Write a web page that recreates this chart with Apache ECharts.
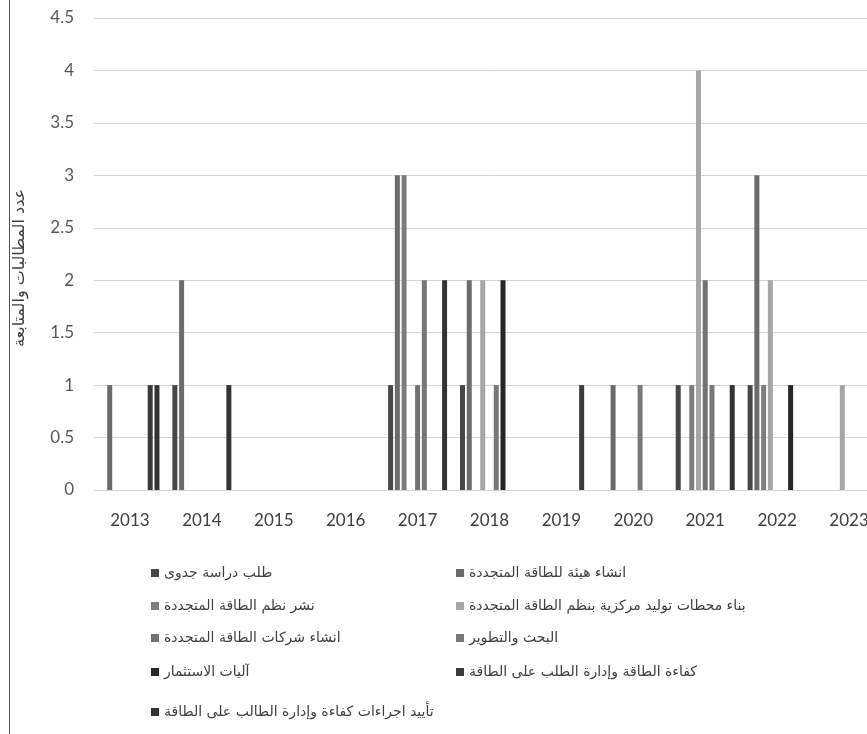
<!DOCTYPE html>
<html>
<head>
<meta charset="utf-8">
<script src="https://cdn.jsdelivr.net/npm/echarts@6/dist/echarts.min.js"></script>
<style>
  html, body { margin: 0; padding: 0; overflow: hidden; background: #ffffff; }
  #chart { width: 900px; height: 734px; }
</style>
</head>
<body>
<div id="chart"></div>
<script>
// Years on the category axis
const years = ['2013', '2014', '2015', '2016', '2017', '2018', '2019', '2020', '2021', '2022', '2023'];

// Series names (legend order)
const seriesNames = [
  'طلب دراسة جدوى',
  'انشاء هيئة للطاقة المتجددة',
  'نشر نظم الطاقة المتجددة',
  'بناء محطات توليد مركزية بنظم الطاقة المتجددة',
  'انشاء شركات الطاقة المتجددة',
  'البحث والتطوير',
  'آليات الاستثمار',
  'كفاءة الطاقة وإدارة الطلب على الطاقة',
  'تأييد اجراءات كفاءة وإدارة الطالب على الطاقة'
];

// Counts per year, one array per series
const feasibilityStudy   = [0, 1, 0, 0, 1, 1, 0, 0, 1, 1, 0];
const energyAuthority    = [1, 2, 0, 0, 3, 2, 0, 1, 0, 3, 0];
const systemsDeployment  = [0, 0, 0, 0, 3, 0, 0, 0, 1, 1, 0];
const centralStations    = [0, 0, 0, 0, 0, 2, 0, 0, 4, 2, 1];
const energyCompanies    = [0, 0, 0, 0, 1, 0, 0, 0, 2, 0, 0];
const researchDev        = [0, 0, 0, 0, 2, 1, 0, 1, 1, 0, 0];
const investmentTools    = [0, 0, 0, 0, 0, 2, 0, 0, 0, 1, 0];
const efficiencyDemand   = [1, 0, 0, 0, 0, 0, 1, 0, 0, 0, 0];
const efficiencySupport  = [1, 1, 0, 0, 2, 0, 0, 0, 1, 0, 0];

const seriesValues = [
  feasibilityStudy, energyAuthority, systemsDeployment, centralStations,
  energyCompanies, researchDev, investmentTools, efficiencyDemand, efficiencySupport
];

const seriesColors = ['#474747', '#6b6b6b', '#7d7d7d', '#a6a6a6', '#727272', '#777777', '#262626', '#3a3a3a', '#333333'];

// Legend placement: two columns, five rows
const legendSlots = [
  { left: 151, top: 566 }, { left: 456, top: 566 },
  { left: 151, top: 599 }, { left: 456, top: 599 },
  { left: 151, top: 631 }, { left: 456, top: 631 },
  { left: 151, top: 665 }, { left: 456, top: 665 },
  { left: 151, top: 705 }
];

const arabicFont = 'DejaVu Sans';
const numFont = 'Lato';

const chart = echarts.init(document.getElementById('chart'), null, { renderer: 'canvas' });

chart.setOption({
  animation: false,
  backgroundColor: '#ffffff',
  grid: { left: 94, right: 15, top: 18, bottom: 244, containLabel: false },
  xAxis: {
    type: 'category',
    data: years,
    boundaryGap: true,
    axisTick: { show: false },
    axisLine: { show: true, lineStyle: { color: '#d4d4d4', width: 1 } },
    axisLabel: { color: '#404040', fontSize: 17, fontFamily: numFont, margin: 22 },
    splitLine: { show: false }
  },
  yAxis: {
    type: 'value',
    min: 0,
    max: 4.5,
    interval: 0.5,
    name: 'عدد المطالبات والمتابعة',
    nameLocation: 'middle',
    nameGap: 66,
    nameTextStyle: { color: '#404040', fontSize: 16, fontFamily: arabicFont, padding: [0, 28, 0, 0] },
    axisLine: { show: false },
    axisTick: { show: false },
    axisLabel: { color: '#595959', fontSize: 17, fontFamily: numFont, margin: 20 },
    splitLine: { show: true, lineStyle: { color: '#d4d4d4', width: 1 } }
  },
  legend: seriesNames.map((name, i) => ({
    data: [name],
    left: legendSlots[i].left,
    top: legendSlots[i].top,
    padding: 0,
    itemWidth: 8,
    itemHeight: 8,
    icon: 'rect',
    textStyle: { color: '#404040', fontSize: 14, fontFamily: arabicFont },
    selectedMode: false
  })),
  series: seriesNames.map((name, i) => ({
    name: name,
    type: 'bar',
    data: seriesValues[i],
    barWidth: 5,
    barGap: '35%',
    itemStyle: { color: seriesColors[i] }
  })),
  graphic: [
    {
      type: 'line',
      shape: { x1: 9.5, y1: 0, x2: 9.5, y2: 734 },
      style: { stroke: '#555555', lineWidth: 1 }
    }
  ]
});
</script>
</body>
</html>
